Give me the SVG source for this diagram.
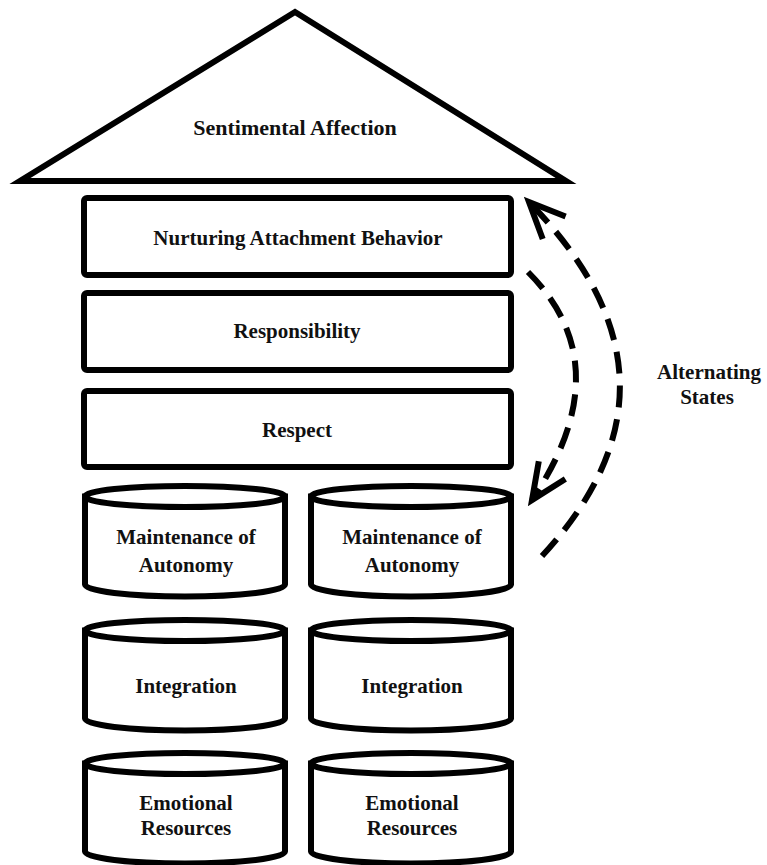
<svg xmlns="http://www.w3.org/2000/svg" width="767" height="865" viewBox="0 0 767 865">
<style>
  .shape { fill: #fff; stroke: #000; stroke-width: 6; }
  .lbl { font-family: "Liberation Serif", "Times New Roman", serif; font-weight: bold; font-size: 21px; fill: #111; text-anchor: middle; }
  .dash { fill: none; stroke: #000; stroke-width: 6; stroke-dasharray: 22 12; }
</style>
<defs>
  <marker id="chev" markerUnits="userSpaceOnUse" markerWidth="60" markerHeight="60" viewBox="-50 -30 60 60" refX="0" refY="0" orient="auto" overflow="visible">
    <path d="M-36,-16 L0,0 L-36,16" fill="none" stroke="#000" stroke-width="6" stroke-dasharray="none" stroke-linejoin="miter"/>
  </marker>
  <g id="cyl">
    <path class="shape" d="M0,0 L0,88 A100,12 0 0 0 200,88 L200,0 Z"/>
    <ellipse class="shape" cx="100" cy="0" rx="100" ry="10.5"/>
  </g>
</defs>

<g id="roof">
  <polygon class="shape" stroke-width="7" points="295,12 20,181 566,181"/>
  <text class="lbl" x="295" y="135" style="font-size:22px">Sentimental Affection</text>
</g>

<g id="nurturing">
  <rect class="shape" x="84" y="198" width="427" height="77" rx="3"/>
  <text class="lbl" x="298" y="245">Nurturing Attachment Behavior</text>
</g>
<g id="responsibility">
  <rect class="shape" x="84" y="293" width="427" height="77" rx="3"/>
  <text class="lbl" x="297" y="338">Responsibility</text>
</g>
<g id="respect">
  <rect class="shape" x="84" y="391" width="427" height="76" rx="3"/>
  <text class="lbl" x="297" y="437">Respect</text>
</g>

<g id="autonomy-left">
  <use href="#cyl" x="85" y="496.5"/>
  <text class="lbl" x="186" y="544">Maintenance of</text>
  <text class="lbl" x="186" y="572">Autonomy</text>
</g>
<g id="autonomy-right">
  <use href="#cyl" x="311" y="496.5"/>
  <text class="lbl" x="412" y="544">Maintenance of</text>
  <text class="lbl" x="412" y="572">Autonomy</text>
</g>

<g id="integration-left">
  <use href="#cyl" x="85" y="630.5"/>
  <text class="lbl" x="186" y="693">Integration</text>
</g>
<g id="integration-right">
  <use href="#cyl" x="311" y="630.5"/>
  <text class="lbl" x="412" y="693">Integration</text>
</g>

<g id="emotional-left">
  <use href="#cyl" x="85" y="763.5"/>
  <text class="lbl" x="186" y="810">Emotional</text>
  <text class="lbl" x="186" y="835">Resources</text>
</g>
<g id="emotional-right">
  <use href="#cyl" x="311" y="763.5"/>
  <text class="lbl" x="412" y="810">Emotional</text>
  <text class="lbl" x="412" y="835">Resources</text>
</g>

<g id="alternating-label">
  <text class="lbl" x="709" y="379">Alternating</text>
  <text class="lbl" x="707" y="404">States</text>
</g>

<g id="connectors">
  <path class="dash" d="M542,556 Q704,381 529,202" marker-end="url(#chev)"/>
  <path class="dash" d="M528,272 Q622,366 532,500" marker-end="url(#chev)"/>
</g>
</svg>
